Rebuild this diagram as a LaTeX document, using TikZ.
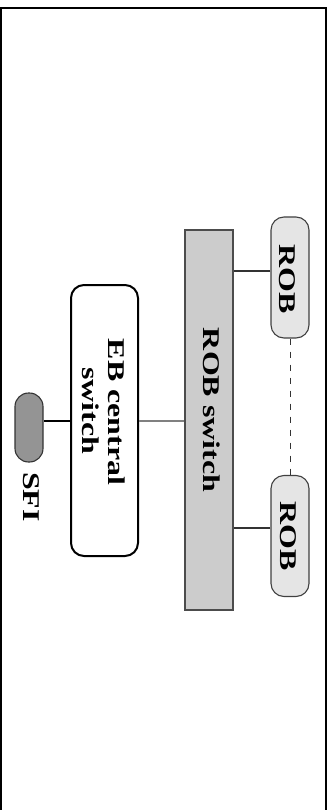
\documentclass[tikz,border=0pt]{standalone}
\usepackage{fontspec}
\setmainfont{Liberation Serif}
\usetikzlibrary{calc}
\newcommand{\lbl}[1]{\fontsize{24}{26}\selectfont\bfseries\scalebox{1.33}[1]{#1}}
\begin{document}
\begin{tikzpicture}[x=1pt,y=-1pt,
  switchbox/.style={draw=black!70, fill=black!20, line width=1.3pt, minimum width=48pt, minimum height=380pt, inner sep=0pt},
  robbox/.style={draw=black!75, fill=black!10, line width=1.1pt, rounded corners=13pt, minimum width=38pt, minimum height=121pt, inner sep=0pt},
  ebbox/.style={draw=black, fill=white, line width=2pt, rounded corners=13pt, minimum width=67pt, minimum height=271pt, inner sep=0pt},
  sfibox/.style={draw=black!80, fill=black!42, line width=1.1pt, rounded corners=13.5pt, minimum width=28pt, minimum height=69pt, inner sep=0pt},
  lab/.style={rotate=-90, anchor=base, inner sep=0pt}]
\useasboundingbox (0,0) rectangle (330,810);
% frame
\draw[line width=2pt] (1,810) -- (1,8) -- (326,8) -- (326,810);
% nodes
\node[switchbox] (rs) at (209,420) {};
\node[robbox] (rob1) at (290,277.5) {};
\node[robbox] (rob2) at (290,536) {};
\node[ebbox] (eb) at (104.5,420.5) {};
\node[sfibox] (sfi) at (29,427.5) {};
% labels
\node[lab] (rstxt) at (203.5,410) {\lbl{ROB switch}};
\node[lab] (r1txt) at (279,279) {\lbl{ROB}};
\node[lab] (r2txt) at (280,536) {\lbl{ROB}};
\node[lab] (eb1) at (108,412) {\lbl{EB central}};
\node[lab] (eb2) at (82,410.5) {\lbl{switch}};
\node[lab] (sfitxt) at (23,497) {\lbl{SFI}};
% connectors
\draw[line width=2pt] (eb.west) -- (eb.west -| sfi.east);
\draw[black!50, line width=2pt] (eb.east) -- (eb.east -| rs.west);
\draw[black!80, line width=1.3pt] ([yshift=6.5pt]rob1.west) -- ([yshift=6.5pt]rob1.west -| rs.east);
\draw[black!80, line width=1.3pt] ([yshift=8pt]rob2.west) -- ([yshift=8pt]rob2.west -| rs.east);
\draw[black!80, line width=1pt, dash pattern=on 6pt off 7pt] (rob1.south) -- (rob2.north);
\end{tikzpicture}
\end{document}
